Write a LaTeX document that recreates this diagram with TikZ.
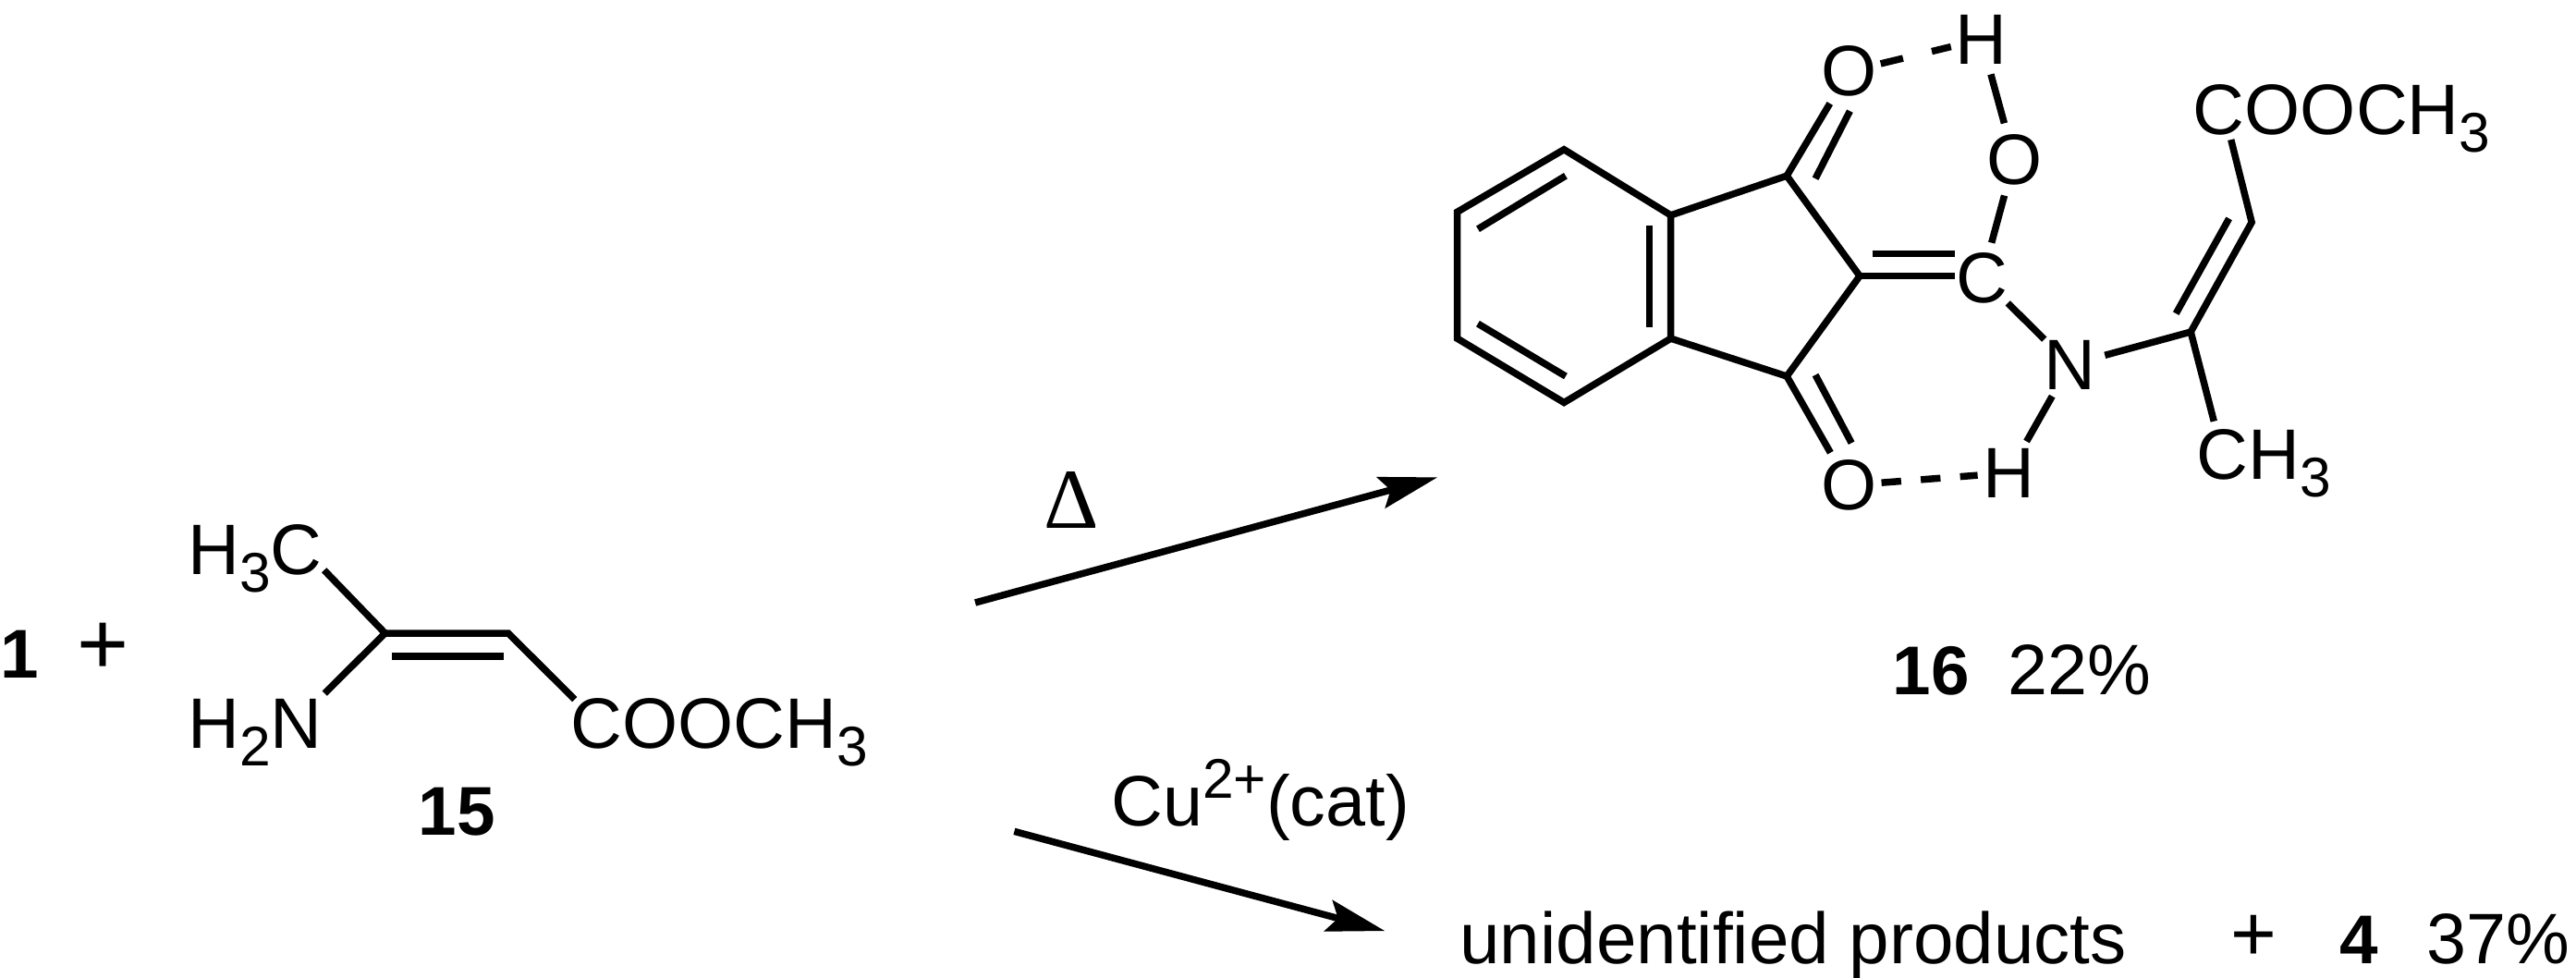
\documentclass[tikz,border=0pt]{standalone}
\usepackage{fontspec}
\setmainfont{Liberation Sans}
\newfontfamily\deltafont{Liberation Serif}
\usetikzlibrary{arrows.meta}
\newcommand{\lowthree}{\raisebox{-10.5pt}{\fontsize{34}{36}\selectfont 3}}
\newcommand{\lowtwo}{\raisebox{-10.5pt}{\fontsize{34}{36}\selectfont 2}}
\tikzset{
  chem/.style={inner sep=0pt,outer sep=0pt,font=\fontsize{43.5}{50}\selectfont,text=black},
  txt/.style={chem,anchor=base west},
  boldtxt/.style={txt,font=\fontsize{42}{50}\selectfont\bfseries},
  atom/.style={chem,circle,minimum size=44pt},
  bond/.style={draw=black,line width=4.2pt,line cap=butt,line join=miter},
  hbond/.style={bond,shorten <=-3pt,shorten >=-3pt},
  react/.style={draw=black,line width=4.2pt,-{Stealth[length=35.5pt,width=19.4pt,inset=6pt]}},
}
\begin{document}
\begin{tikzpicture}[x=1pt,y=-1pt]
\useasboundingbox (0,0) rectangle (1568,594.7);
% ---- reactant 15
\node[boldtxt] (one) at (0.5,412.5) {1};
\node[chem,font=\fontsize{54}{60}\selectfont] (plusa) at (63,395) {+};
\node[txt] (hthreec) at (114.5,349.8) {H\lowthree C};
\node[txt] (htwon) at (114.5,455.7) {H\lowtwo N};
\node[txt] (coocha) at (347.5,455.7) {COOCH\lowthree};
\node[boldtxt,anchor=base] (fifteen) at (278,508.2) {15};
\coordinate (ca) at (234.4,385.4);
\coordinate (cb) at (309.4,385.4);
\coordinate (caend) at (197.3,347);
\coordinate (naend) at (197.6,422);
\coordinate (coend) at (349.8,425.7);
\coordinate (ia) at (238.8,399.5);
\coordinate (ib) at (306.6,399.5);
\draw[bond] (caend) -- (ca) -- (naend);
\draw[bond] (ca) -- (cb) -- (coend);
\draw[bond] (ia) -- (ib);
% ---- arrows
\coordinate (arrAs) at (593.6,366.8);
\coordinate (arrAe) at (875,290.5);
\coordinate (arrBs) at (617.4,506);
\coordinate (arrBe) at (843,566.6);
\draw[react] (arrAs) -- (arrAe);
\draw[react] (arrBs) -- (arrBe);
\node[chem,font=\fontsize{52}{56}\deltafont] (delta) at (652,304.5) {Δ};
\node[txt] (cu) at (676.5,502.7) {Cu\raisebox{17pt}{\fontsize{34}{36}\selectfont 2+}(cat)};
% ---- product 16: benzene ring
\coordinate (r1) at (952,91);
\coordinate (r2) at (1017,131);
\coordinate (r3) at (1017,206);
\coordinate (r4) at (952,245);
\coordinate (r5) at (887,206);
\coordinate (r6) at (887,129);
\draw[bond] (r1) -- (r2) -- (r3) -- (r4) -- (r5) -- (r6) -- cycle;
\coordinate (i1a) at (899.6,139.4);
\coordinate (i1b) at (953,107);
\coordinate (i2a) at (899.6,197);
\coordinate (i2b) at (953,229);
\coordinate (i3a) at (1004,137);
\coordinate (i3b) at (1004,199);
\draw[bond] (i1a) -- (i1b);
\draw[bond] (i2a) -- (i2b);
\draw[bond] (i3a) -- (i3b);
% five-membered ring
\coordinate (c1) at (1087.6,107);
\coordinate (c2) at (1132,168);
\coordinate (c3) at (1087.6,229);
\draw[bond] (r2) -- (c1) -- (c2) -- (c3) -- (r3);
% atoms
\node[atom] (otop) at (1125.5,43.4) {O};
\node[atom] (htop) at (1206,24) {H};
\node[atom] (omid) at (1226,97) {O};
\node[atom] (cmid) at (1206.5,169) {C};
\node[atom] (nmid) at (1260,222) {N};
\node[atom] (hbot) at (1222.7,287.8) {H};
\node[atom] (obot) at (1125.5,295.3) {O};
% carbonyls
\draw[bond] (c1) -- (otop);
\coordinate (ot1) at (1105,108.7);
\coordinate (ot2) at (1126,67.6);
\draw[bond] (ot1) -- (ot2);
\draw[bond] (c3) -- (obot);
\coordinate (ob1) at (1105,228.2);
\coordinate (ob2) at (1127,269.6);
\draw[bond] (ob1) -- (ob2);
% hydrogen bonds
\draw[hbond,dash pattern=on 14pt off 18pt] (otop) -- (htop);
\draw[hbond,dash pattern=on 12pt off 12pt] (obot) -- (hbot);
% chain
\draw[bond] (htop) -- (omid);
\draw[bond] (omid) -- (cmid);
\draw[bond] (cmid) -- (nmid);
\draw[bond] (nmid) -- (hbot);
\coordinate (dbA) at (1190,168);
\coordinate (dbB) at (1139.6,154.5);
\coordinate (dbC) at (1190,154.5);
\draw[bond] (c2) -- (dbA);
\draw[bond] (dbB) -- (dbC);
\coordinate (c4) at (1333.5,202);
\coordinate (c5) at (1370.6,135.3);
\coordinate (i5a) at (1324.5,190.8);
\coordinate (i5b) at (1356.8,133);
\coordinate (cooend) at (1358,85);
\coordinate (chend) at (1347.6,256.4);
\draw[bond] (nmid) -- (c4) -- (c5) -- (cooend);
\draw[bond] (i5a) -- (i5b);
\draw[bond] (c4) -- (chend);
\node[txt] (coochb) at (1335,81.8) {COOCH\lowthree};
\node[txt] (chthree) at (1337,291.8) {CH\lowthree};
% ---- labels
\node[boldtxt] (sixteen) at (1152,423) {16};
\node[txt] (yielda) at (1222.5,423) {22\%};
\node[txt,font=\fontsize{44}{50}\selectfont] (unid) at (888.5,586.3) {unidentified products};
\node[chem,font=\fontsize{48}{54}\selectfont] (plusb) at (1372,571) {+};
\node[boldtxt] (four) at (1424.5,586.3) {4};
\node[txt] (yieldb) at (1477,586.3) {37\%};
\end{tikzpicture}
\end{document}
